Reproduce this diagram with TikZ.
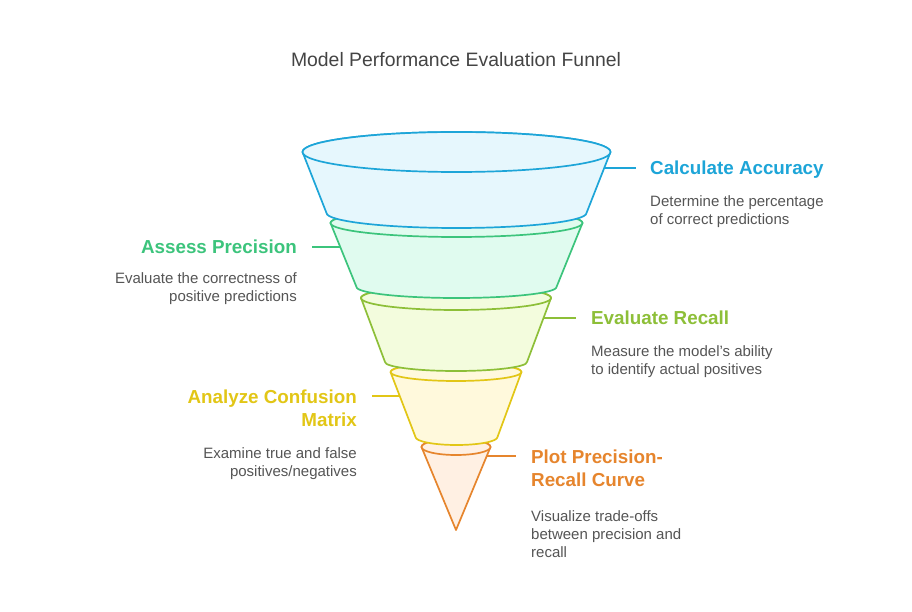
\documentclass[tikz,border=0pt]{standalone}
\usepackage{fontspec}
\setmainfont{Liberation Sans}
\definecolor{cblue}{HTML}{1DA5D8}
\definecolor{fblue}{HTML}{E6F7FD}
\definecolor{cgreen}{HTML}{3CC47C}
\definecolor{fgreen}{HTML}{E0FBEF}
\definecolor{clime}{HTML}{8DBF38}
\definecolor{flime}{HTML}{F3FCDD}
\definecolor{cyel}{HTML}{E2C616}
\definecolor{fyel}{HTML}{FFF9DC}
\definecolor{corg}{HTML}{E6852D}
\definecolor{forg}{HTML}{FFF0E3}
\definecolor{ctext}{HTML}{555555}
\definecolor{ctitle}{HTML}{444444}
\tikzset{
  head/.style={inner sep=0pt, font=\bfseries\fontsize{18.8}{23}\selectfont},
  desc/.style={inner sep=0pt, text=ctext, font=\fontsize{15}{18}\selectfont},
  conn/.style={line width=1.7pt},
  layer/.style={line width=1.7pt, line join=round},
}
\begin{document}
\begin{tikzpicture}[x=1pt,y=-1pt]
\useasboundingbox[fill=white] (0,0) rectangle (912,612);
\node[inner sep=0pt, text=ctitle, font=\fontsize{19.4}{23}\selectfont] (title) at (456,60) {Model Performance Evaluation Funnel};

% funnel layers, bottom to top
\path[layer, fill=forg, draw=corg]
  (421.5,447) -- (456,530) -- (490.5,447)
  arc[start angle=0, end angle=-180, x radius=34.5, y radius=8] -- cycle;
\draw[layer, fill=forg, draw=corg] (456,447) ellipse[x radius=34.5, y radius=8];

\path[layer, fill=fyel, draw=cyel]
  (390.5,372) -- (415.5,437)
  arc[start angle=180, end angle=0, x radius=41, y radius=8]
  -- (521.5,372)
  arc[start angle=0, end angle=-180, x radius=65.5, y radius=9] -- cycle;
\draw[layer, fill=fyel, draw=cyel] (456,372) ellipse[x radius=65.5, y radius=9];

\path[layer, fill=flime, draw=clime]
  (361,298) -- (385,362)
  arc[start angle=180, end angle=0, x radius=71, y radius=9]
  -- (551,298)
  arc[start angle=0, end angle=-180, x radius=95, y radius=12] -- cycle;
\draw[layer, fill=flime, draw=clime] (456,298) ellipse[x radius=95, y radius=12];

\path[layer, fill=fgreen, draw=cgreen]
  (330.5,223) -- (356.5,287)
  arc[start angle=180, end angle=0, x radius=100, y radius=11]
  -- (582.5,223)
  arc[start angle=0, end angle=-180, x radius=126, y radius=14] -- cycle;
\draw[layer, fill=fgreen, draw=cgreen] (456.5,223) ellipse[x radius=126, y radius=14];

\path[layer, fill=fblue, draw=cblue]
  (302.5,152) -- (326.5,213)
  arc[start angle=180, end angle=0, x radius=130, y radius=15]
  -- (610.5,152)
  arc[start angle=0, end angle=-180, x radius=154, y radius=20] -- cycle;
\draw[layer, fill=fblue, draw=cblue] (456.5,152) ellipse[x radius=154, y radius=20];

% labels
\node[head, text=cblue, anchor=north west] (h1) at (650,161) {Calculate Accuracy};
\node[desc, anchor=north west, align=left] (d1) at (650,195.5) {Determine the percentage\\of correct predictions};
\node[head, text=cgreen, anchor=north east] (h2) at (297,240) {Assess Precision};
\node[desc, anchor=north east, align=right] (d2) at (297,272.5) {Evaluate the correctness of\\positive predictions};
\node[head, text=clime, anchor=north west] (h3) at (591,311) {Evaluate Recall};
\node[desc, anchor=north west, align=left] (d3) at (591,345.5) {Measure the model's ability\\to identify actual positives};
\node[head, text=cyel, anchor=north east, align=right] (h4) at (357,390) {Analyze Confusion\\Matrix};
\node[desc, anchor=north east, align=right] (d4) at (357,447.5) {Examine true and false\\positives/negatives};
\node[head, text=corg, anchor=north west, align=left] (h5) at (531,450) {Plot Precision-\\Recall Curve};
\node[desc, anchor=north west, align=left] (d5) at (531,510.5) {Visualize trade-offs\\between precision and\\recall};

% connectors
\coordinate (s1) at (604.2,168); \coordinate (e1) at (636,168);
\coordinate (s2) at (340.2,247); \coordinate (e2) at (312,247);
\coordinate (s3) at (544,318);   \coordinate (e3) at (576,318);
\coordinate (s4) at (400,396);   \coordinate (e4) at (372,396);
\coordinate (s5) at (486.8,456); \coordinate (e5) at (516,456);
\draw[conn, cblue] (s1) -- (e1);
\draw[conn, cgreen] (s2) -- (e2);
\draw[conn, clime] (s3) -- (e3);
\draw[conn, cyel] (s4) -- (e4);
\draw[conn, corg] (s5) -- (e5);
\end{tikzpicture}
\end{document}
